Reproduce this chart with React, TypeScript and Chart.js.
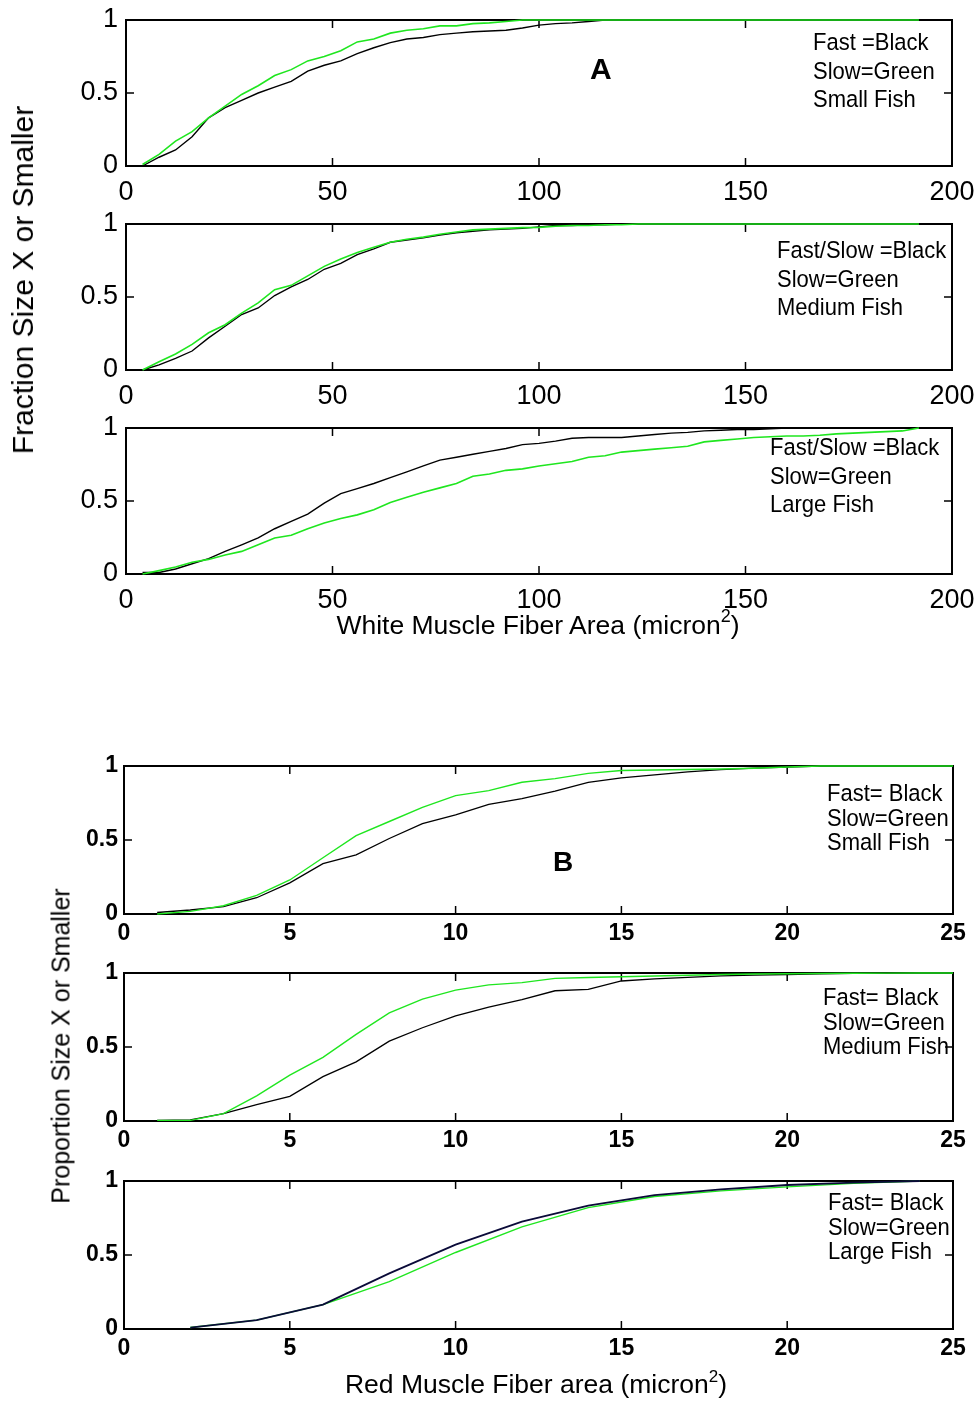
import React, { useEffect, useRef } from "react";
import { Chart, registerables } from "chart.js";
Chart.register(...registerables);

// ---------- DATA ----------
// Panel A (white muscle fiber area, micron^2), shared x grid
const xA = [4, 8, 12, 16, 20, 24, 28, 32, 36, 40, 44, 48, 52, 56, 60, 64, 68, 72, 76, 80, 84, 88, 92, 96, 100, 104, 108, 112, 116, 120, 124, 128, 132, 136, 140, 144, 148, 152, 156, 160, 164, 168, 172, 176, 180, 184, 188, 192];

const smallWhiteFast = [0, 0.06, 0.11, 0.2, 0.33, 0.4, 0.45, 0.5, 0.54, 0.58, 0.65, 0.69, 0.72, 0.77, 0.81, 0.845, 0.87, 0.88, 0.9, 0.91, 0.92, 0.925, 0.93, 0.945, 0.965, 0.975, 0.98, 0.99, 1, 1, 1, 1, 1, 1, 1, 1, 1, 1, 1, 1, 1, 1, 1, 1, 1, 1, 1, 1];
const smallWhiteSlow = [0.01, 0.08, 0.17, 0.235, 0.33, 0.41, 0.49, 0.55, 0.62, 0.66, 0.72, 0.75, 0.79, 0.85, 0.87, 0.91, 0.93, 0.94, 0.96, 0.96, 0.975, 0.98, 0.99, 1, 1, 1, 1, 1, 1, 1, 1, 1, 1, 1, 1, 1, 1, 1, 1, 1, 1, 1, 1, 1, 1, 1, 1, 1];

const mediumWhiteFast = [0, 0.035, 0.08, 0.13, 0.22, 0.3, 0.38, 0.425, 0.51, 0.57, 0.62, 0.69, 0.73, 0.79, 0.83, 0.875, 0.89, 0.905, 0.925, 0.94, 0.95, 0.96, 0.966, 0.97, 0.98, 0.99, 0.99, 0.995, 0.995, 1, 1, 1, 1, 1, 1, 1, 1, 1, 1, 1, 1, 1, 1, 1, 1, 1, 1, 1];
const mediumWhiteSlow = [0, 0.057, 0.11, 0.175, 0.255, 0.31, 0.39, 0.46, 0.55, 0.58, 0.645, 0.71, 0.76, 0.805, 0.84, 0.875, 0.895, 0.91, 0.93, 0.945, 0.96, 0.965, 0.97, 0.975, 0.977, 0.985, 0.99, 0.99, 0.995, 0.995, 1, 1, 1, 1, 1, 1, 1, 1, 1, 1, 1, 1, 1, 1, 1, 1, 1, 1];

const largeWhiteFast = [0.01, 0.01, 0.034, 0.07, 0.105, 0.155, 0.2, 0.247, 0.31, 0.36, 0.41, 0.486, 0.55, 0.585, 0.62, 0.66, 0.7, 0.74, 0.78, 0.8, 0.82, 0.84, 0.86, 0.886, 0.895, 0.91, 0.93, 0.935, 0.935, 0.935, 0.945, 0.955, 0.965, 0.97, 0.98, 0.985, 0.99, 0.99, 0.995, 1, 1, 1, 1, 1, 1, 1, 1, 1];
const largeWhiteSlow = [0, 0.023, 0.048, 0.08, 0.1, 0.13, 0.155, 0.2, 0.247, 0.265, 0.31, 0.35, 0.38, 0.405, 0.44, 0.49, 0.525, 0.56, 0.59, 0.62, 0.67, 0.685, 0.71, 0.72, 0.74, 0.755, 0.77, 0.8, 0.81, 0.835, 0.845, 0.855, 0.865, 0.875, 0.905, 0.915, 0.925, 0.935, 0.94, 0.945, 0.945, 0.95, 0.96, 0.965, 0.97, 0.975, 0.98, 1];

// Panel B (red muscle fiber area, micron^2)
const xB = [1, 2, 3, 4, 5, 6, 7, 8, 9, 10, 11, 12, 13, 14, 15, 16, 17, 18, 19, 20, 21, 22, 23, 24, 25];
const smallRedFast = [0.01, 0.027, 0.05, 0.11, 0.21, 0.34, 0.4, 0.51, 0.61, 0.67, 0.74, 0.78, 0.83, 0.89, 0.92, 0.94, 0.96, 0.975, 0.985, 0.993, 1, 1, 1, 1, 1];
const smallRedSlow = [0, 0.018, 0.056, 0.126, 0.23, 0.38, 0.53, 0.625, 0.72, 0.8, 0.834, 0.89, 0.915, 0.95, 0.97, 0.973, 0.976, 0.98, 0.985, 0.993, 1, 1, 1, 1, 1];
const mediumRedFast = [0.004, 0.007, 0.05, 0.11, 0.167, 0.3, 0.4, 0.54, 0.63, 0.71, 0.77, 0.82, 0.88, 0.89, 0.946, 0.96, 0.97, 0.98, 0.985, 0.99, 0.995, 0.997, 0.998, 1, 1];
const mediumRedSlow = [0.004, 0.004, 0.05, 0.17, 0.31, 0.43, 0.585, 0.73, 0.824, 0.884, 0.92, 0.935, 0.964, 0.97, 0.975, 0.98, 0.985, 0.99, 0.993, 0.995, 0.997, 0.998, 0.999, 1, 1];
const xBLarge = [2, 4, 6, 8, 10, 12, 14, 16, 18, 20, 22, 24];
const largeRedFast = [0.01, 0.06, 0.165, 0.376, 0.57, 0.726, 0.833, 0.904, 0.944, 0.973, 0.989, 1];
const largeRedSlow = [0.01, 0.06, 0.165, 0.32, 0.517, 0.69, 0.82, 0.895, 0.933, 0.96, 0.984, 1];

const yTicks = [0, 0.5, 1];
const xTicksA = [0, 50, 100, 150, 200];
const xTicksB = [0, 5, 10, 15, 20, 25];

// ---------- STYLE ----------
const FONT = '"Liberation Sans", Arial, Helvetica, sans-serif';
const GREEN = "#1fe61f";
const BLACK = "#000000";
const NAVY = "#0a0a38";

const zip = (xs: number[], ys: number[]) => xs.map((x, i) => ({ x, y: ys[i] }));

type Series = { xs: number[]; ys: number[]; color: string; width: number };
type PanelCfg = {
  top: number;
  h: number;
  left: number;
  right: number;
  xmax: number;
  step: number;
  xTicks: number[];
  fontSize: number;
  bold: boolean;
  yPad: number;
  xPad: number;
  series: Series[];
};

const framePlugin = {
  id: "frameTicks",
  beforeDatasetsDraw(chart: any) {
    const { ctx, chartArea, scales } = chart;
    const { left, right, top, bottom } = chartArea;
    const cfg = chart.options.plugins.frameTicks;
    ctx.save();
    ctx.strokeStyle = "#000";
    ctx.lineWidth = 2;
    ctx.strokeRect(left, top, right - left, bottom - top);
    ctx.lineWidth = 1.5;
    const tl = 8;
    ctx.beginPath();
    for (const v of cfg.xTicks) {
      const px = scales.x.getPixelForValue(v);
      ctx.moveTo(px, bottom);
      ctx.lineTo(px, bottom - tl);
      ctx.moveTo(px, top);
      ctx.lineTo(px, top + tl);
    }
    for (const v of cfg.yTicks) {
      const py = scales.y.getPixelForValue(v);
      ctx.moveTo(left, py);
      ctx.lineTo(left + tl, py);
      ctx.moveTo(right, py);
      ctx.lineTo(right - tl, py);
    }
    ctx.stroke();
    ctx.restore();
  },
};

const TOPPAD = 20;
const BOTTOM = 46;
const W = 979;

function Panel({ cfg }: { cfg: PanelCfg }) {
  const ref = useRef<HTMLCanvasElement | null>(null);
  const H = TOPPAD + cfg.h + BOTTOM;
  useEffect(() => {
    if (!ref.current) return;
    const font = { family: FONT, size: cfg.fontSize, weight: cfg.bold ? "bold" : "normal" };
    const chart = new Chart(ref.current, {
      type: "line",
      data: {
        datasets: cfg.series.map((s) => ({
          data: zip(s.xs, s.ys),
          borderColor: s.color,
          borderWidth: s.width,
          pointRadius: 0,
          tension: 0,
          fill: false,
          clip: 4,
        })),
      },
      options: {
        animation: false,
        responsive: false,
        maintainAspectRatio: false,
        events: [],
        layout: { padding: { left: 0, right: W - cfg.right, top: TOPPAD, bottom: 0 } },
        plugins: {
          legend: { display: false },
          tooltip: { enabled: false },
          frameTicks: { xTicks: cfg.xTicks, yTicks },
        } as any,
        scales: {
          x: {
            type: "linear",
            min: 0,
            max: cfg.xmax,
            grid: { display: false, drawTicks: false },
            border: { display: false },
            ticks: {
              stepSize: cfg.step,
              padding: cfg.xPad,
              color: "#000",
              maxRotation: 0,
              autoSkip: false,
              font,
              callback: (v: any) => `${v}`,
            },
            afterFit(scale: any) {
              scale.height = BOTTOM;
              scale.paddingLeft = 0;
              scale.paddingRight = 0;
            },
          },
          y: {
            type: "linear",
            min: 0,
            max: 1,
            grid: { display: false, drawTicks: false },
            border: { display: false },
            ticks: {
              stepSize: 0.5,
              padding: cfg.yPad,
              color: "#000",
              font,
              callback: (v: any) => `${v}`,
            },
            afterFit(scale: any) {
              scale.width = cfg.left;
              scale.paddingTop = 0;
              scale.paddingBottom = 0;
            },
          },
        },
      },
      plugins: [framePlugin],
    } as any);
    return () => chart.destroy();
  }, []);
  return (
    <canvas
      ref={ref}
      width={W}
      height={H}
      style={{ position: "absolute", left: 0, top: cfg.top - TOPPAD, width: W, height: H }}
    />
  );
}

const panelsA: PanelCfg[] = [
  { ys: [smallWhiteSlow, smallWhiteFast], top: 20 },
  { ys: [mediumWhiteSlow, mediumWhiteFast], top: 224 },
  { ys: [largeWhiteSlow, largeWhiteFast], top: 428 },
].map((p) => ({
  top: p.top,
  h: 146,
  left: 126,
  right: 952,
  xmax: 200,
  step: 50,
  xTicks: xTicksA,
  fontSize: 27,
  bold: false,
  yPad: 8,
  xPad: 10,
  series: [
    { xs: xA, ys: p.ys[0], color: GREEN, width: 1.6 },
    { xs: xA, ys: p.ys[1], color: BLACK, width: 1.4 },
  ],
}));

const panelB = (top: number, series: Series[]): PanelCfg => ({
  top,
  h: 148,
  left: 124,
  right: 953,
  xmax: 25,
  step: 5,
  xTicks: xTicksB,
  fontSize: 23,
  bold: true,
  yPad: 6,
  xPad: 6,
  series,
});

const panelsB: PanelCfg[] = [
  panelB(766, [
    { xs: xB, ys: smallRedSlow, color: GREEN, width: 1.4 },
    { xs: xB, ys: smallRedFast, color: BLACK, width: 1.3 },
  ]),
  panelB(973, [
    { xs: xB, ys: mediumRedSlow, color: GREEN, width: 1.4 },
    { xs: xB, ys: mediumRedFast, color: BLACK, width: 1.3 },
  ]),
  panelB(1181, [
    { xs: xBLarge, ys: largeRedFast, color: NAVY, width: 1.8 },
    { xs: xBLarge, ys: largeRedSlow, color: GREEN, width: 1.4 },
  ]),
];

const abs = (extra: React.CSSProperties): React.CSSProperties => ({
  position: "absolute",
  fontFamily: FONT,
  color: "#000",
  whiteSpace: "pre",
  margin: 0,
  ...extra,
});

function Legend({ lines, x, y, size, lh }: { lines: string[]; x: number; y: number; size: number; lh: number }) {
  return (
    <div style={abs({ left: x, top: y, fontSize: size, lineHeight: `${lh}px`, transform: "scaleY(1.08)", transformOrigin: "left top" })}>
      {lines.map((l, i) => (
        <div key={i}>{l}</div>
      ))}
    </div>
  );
}

export default function App() {
  return (
    <div style={{ position: "absolute", left: 0, top: 0, width: W, height: 1401, background: "#fff", overflow: "hidden" }}>
      {panelsA.map((p, i) => (
        <Panel key={"a" + i} cfg={p} />
      ))}
      {panelsB.map((p, i) => (
        <Panel key={"b" + i} cfg={p} />
      ))}

      {/* Panel A texts */}
      <div
        style={abs({
          left: 23,
          top: 280,
          fontSize: 30,
          lineHeight: "30px",
          transform: "translate(-50%, -50%) rotate(-90deg)",
        })}
      >
        Fraction Size X or Smaller
      </div>
      <div style={abs({ left: 590, top: 54, fontSize: 30, lineHeight: "30px", fontWeight: "bold" })}>A</div>
      <Legend lines={["Fast =Black", "Slow=Green", "Small Fish"]} x={813} y={28} size={22} lh={26.5} />
      <Legend lines={["Fast/Slow =Black", "Slow=Green", "Medium Fish"]} x={777} y={236} size={22} lh={26.5} />
      <Legend lines={["Fast/Slow =Black", "Slow=Green", "Large Fish"]} x={770} y={433} size={22} lh={26.5} />
      <div style={abs({ left: 238, width: 600, textAlign: "center", top: 612, fontSize: 26.5, lineHeight: "26px" })}>
        White Muscle Fiber Area (micron<span style={{ fontSize: 18, position: "relative", top: -12 }}>2</span>)
      </div>

      {/* Panel B texts */}
      <div
        style={abs({
          left: 61,
          top: 1046,
          fontSize: 25,
          lineHeight: "25px",
          transform: "translate(-50%, -50%) rotate(-90deg)",
        })}
      >
        Proportion Size X or Smaller
      </div>
      <div style={abs({ left: 553, top: 848, fontSize: 28, lineHeight: "28px", fontWeight: "bold" })}>B</div>
      <Legend lines={["Fast= Black", "Slow=Green", "Small Fish"]} x={827} y={782} size={22} lh={22.5} />
      <Legend lines={["Fast= Black", "Slow=Green", "Medium Fish"]} x={823} y={986} size={22} lh={22.5} />
      <Legend lines={["Fast= Black", "Slow=Green", "Large Fish"]} x={828} y={1191} size={22} lh={22.5} />
      <div style={abs({ left: 236, width: 600, textAlign: "center", top: 1372, fontSize: 26.5, lineHeight: "25px" })}>
        Red Muscle Fiber area (micron<span style={{ fontSize: 17, position: "relative", top: -11 }}>2</span>)
      </div>
    </div>
  );
}
